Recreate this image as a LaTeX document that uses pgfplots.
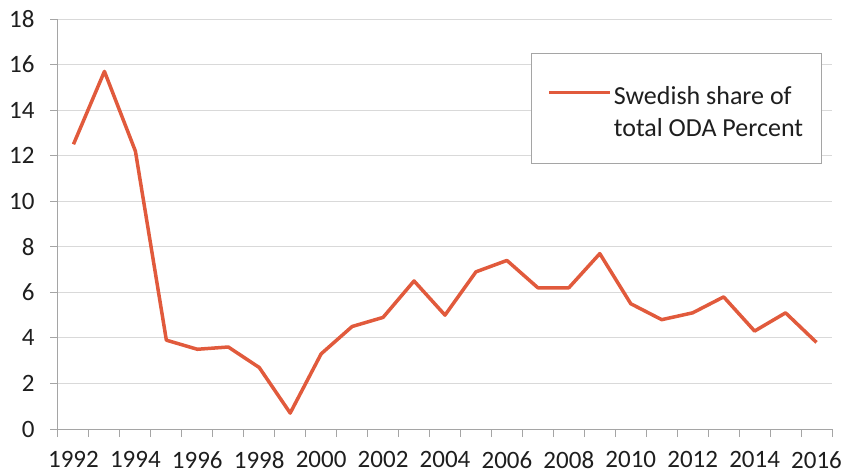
\documentclass[border=0pt]{standalone}
\usepackage{pgfplots}
\pgfplotsset{compat=1.18}
\usepackage{fontspec}
\setmainfont{Carlito}
\definecolor{lineorange}{RGB}{225,90,60}
\definecolor{axisgray}{RGB}{165,165,165}
\definecolor{gridgray}{RGB}{217,217,217}
\definecolor{txt}{RGB}{30,30,30}
\begin{document}
\begin{tikzpicture}
  \begin{axis}[
      scale only axis,
      width=774pt, height=410pt,
      xmin=1991.5, xmax=2016.5,
      ymin=0, ymax=18,
      axis lines*=left,
      axis line style={axisgray, line width=1pt},
      xtick={1992,1994,...,2016},
      minor xtick={1991.5,1992.5,...,2016.5},
      major x tick style={draw=none},
      minor x tick style={axisgray, line width=1pt},
      minor tick length=8pt,
      ytick={0,2,...,18},
      y tick style={axisgray, line width=1pt},
      major tick length=8pt,
      tick align=outside,
      ymajorgrids,
      grid style={gridgray, line width=1pt},
      tick label style={font=\fontsize{25}{30}\selectfont, text=txt},
      /pgf/number format/assume math mode=true,
      xticklabel style={/pgf/number format/1000 sep={}, yshift=-11pt},
      yticklabel style={xshift=-12pt},
      legend style={at={(0.611,0.917)}, anchor=north west,
        draw=axisgray, line width=1pt,
        font=\fontsize{26}{32}\selectfont, text=txt,
        inner xsep=16pt, inner ysep=23pt,
        cells={align=left}},
      legend image code/.code={
        \path (0pt,16pt) -- (61pt,16pt);
        \draw[#1, line width=3.5pt] (10pt,16pt) -- (59pt,16pt);},
    ]
    \addplot[lineorange, line width=3.5pt, line join=round] coordinates {
      (1992,12.5) (1993,15.7) (1994,12.2) (1995,3.9) (1996,3.5)
      (1997,3.6) (1998,2.7) (1999,0.7) (2000,3.3) (2001,4.5)
      (2002,4.9) (2003,6.5) (2004,5.0) (2005,6.9) (2006,7.4)
      (2007,6.2) (2008,6.2) (2009,7.7) (2010,5.5) (2011,4.8)
      (2012,5.1) (2013,5.8) (2014,4.3) (2015,5.1) (2016,3.8)
    };
    \addlegendentry{\rule{0pt}{26pt}Swedish share of\\total ODA Percent}
  \end{axis}
  \useasboundingbox (-58pt,-46pt) rectangle (794pt,429pt);
\end{tikzpicture}
\end{document}
